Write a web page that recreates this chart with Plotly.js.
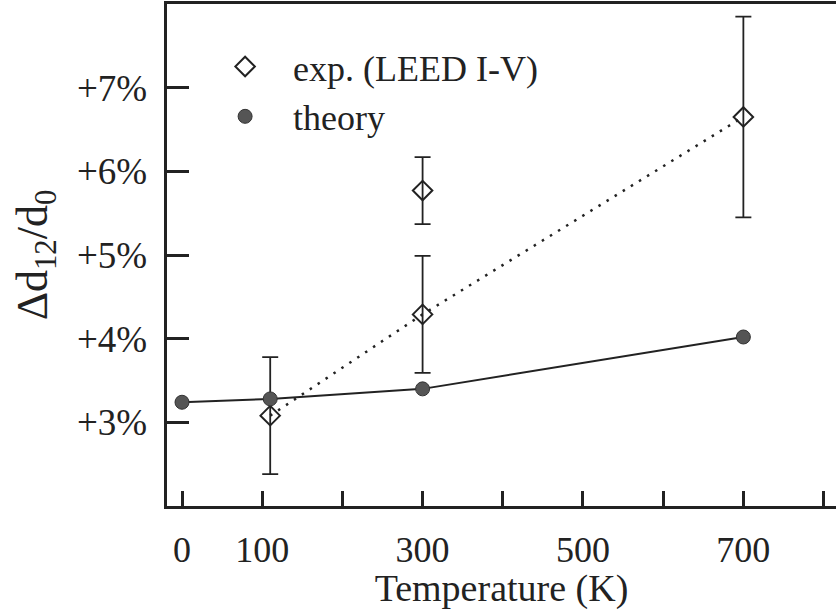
<!DOCTYPE html>
<html>
<head>
<meta charset="utf-8">
<script src="https://cdn.plot.ly/plotly-3.0.1.min.js"></script>
<style>html,body{margin:0;padding:0;background:#fff;}#chart{width:836px;height:610px;}</style>
</head>
<body>
<div id="chart"></div>
<script>
// Theory (filled circles, solid line)
const theoryT = [0, 110, 300, 700];
const theoryD = [3.24, 3.28, 3.40, 4.02];

// Experiment, LEED I-V (open diamonds with error bars)
const expT = [110, 300, 300, 700];
const expD = [3.08, 4.29, 5.77, 6.65];
const expErr = [0.70, 0.70, 0.40, 1.20];

// Points joined by the dotted guide line
const expLineT = [110, 300, 700];
const expLineD = [3.08, 4.29, 6.65];

// Tick labels
const xTickVals = [0, 100, 200, 300, 400, 500, 600, 700, 800];
const xTickText = ['0', '100', '', '300', '', '500', '', '700', ''];
const yTickVals = [3, 4, 5, 6, 7];
const yTickText = ['+3%', '+4%', '+5%', '+6%', '+7%'];

const serif = '"Liberation Serif", "Times New Roman", serif';
const ink = '#222';

const traces = [
  {
    x: expLineT, y: expLineD, mode: 'lines', showlegend: false, hoverinfo: 'skip',
    line: {color: ink, width: 2.5, dash: '2.5px,7px'}
  },
  {
    x: theoryT, y: theoryD, mode: 'lines', showlegend: false, hoverinfo: 'skip',
    line: {color: ink, width: 2}
  },
  {
    x: expT, y: expD, mode: 'markers', name: 'exp. (LEED I-V)',
    marker: {symbol: 'diamond-open', size: 15, color: ink, line: {width: 2, color: ink}},
    error_y: {type: 'data', array: expErr, visible: true, color: ink, thickness: 1.8, width: 8}
  },
  {
    x: theoryT, y: theoryD, mode: 'markers', name: 'theory',
    marker: {symbol: 'circle', size: 14, color: '#555', line: {width: 1, color: '#333'}}
  }
];

const layout = {
  width: 836, height: 610,
  margin: {l: 167, r: 0, t: 4, b: 104},
  paper_bgcolor: '#fff', plot_bgcolor: '#fff',
  font: {family: serif, size: 36, color: ink},
  showlegend: true,
  legend: {
    x: 0.045, y: 0.935, xanchor: 'left', yanchor: 'top',
    bgcolor: 'rgba(0,0,0,0)', borderwidth: 0,
    font: {family: serif, size: 36, color: ink},
    tracegroupgap: 0, itemwidth: 86
  },
  xaxis: {
    range: [-18.7, 815.5],
    tickmode: 'array', tickvals: xTickVals, ticktext: xTickText,
    ticks: 'inside', ticklen: 15, tickwidth: 3, tickcolor: ink,
    showline: true, linecolor: ink, linewidth: 3, mirror: true,
    showgrid: false, zeroline: false,
    tickfont: {family: serif, size: 36, color: ink},
    ticklabelstandoff: 10,
    title: {text: 'Temperature (K)', font: {family: serif, size: 38, color: ink}, standoff: 0}
  },
  yaxis: {
    range: [2.0, 8.0],
    tickmode: 'array', tickvals: yTickVals, ticktext: yTickText,
    ticks: 'inside', ticklen: 22, tickwidth: 3, tickcolor: ink,
    showline: true, linecolor: ink, linewidth: 3.5, mirror: false,
    showgrid: false, zeroline: false,
    tickfont: {family: serif, size: 37, color: ink},
    ticklabelstandoff: 9,
    title: {text: 'Δd<sub>12</sub>/d<sub>0</sub>', font: {family: serif, size: 44, color: ink}, standoff: 16}
  }
};

Plotly.newPlot('chart', traces, layout, {displayModeBar: false, staticPlot: true});
</script>
</body>
</html>
